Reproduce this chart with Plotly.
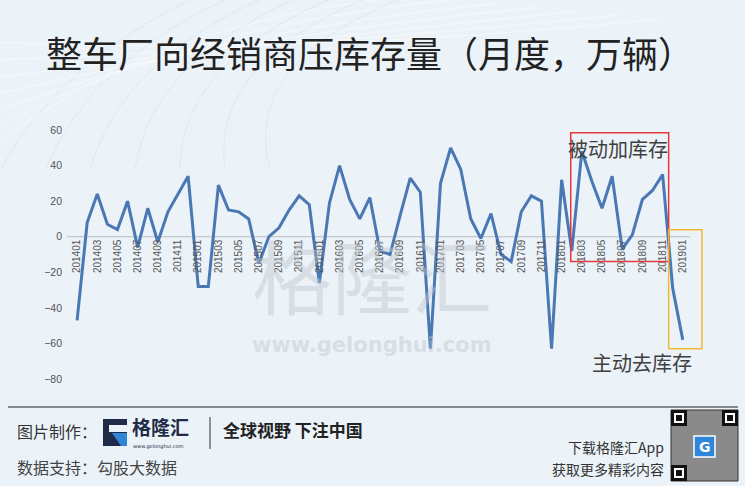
import plotly.graph_objects as go

# monthly data, 201401 .. 201901 (万辆)
months = [f"{y}{m:02d}" for y in range(2014, 2019) for m in range(1, 13)] + ["201901"]
values = [
    -47, 8, 24, 7, 4, 20, -6, 16, -3, 14, 24, 34,       # 2014
    -28, -28, 29, 15, 14, 10, -15, 0, 5, 15, 23, 18,    # 2015
    -26, 19, 40, 21, 10, 22, -8, -10, 12, 33, 25, -63,  # 2016
    30, 50, 38, 10, -1, 13, -10, -14, 14, 23, 20, -63,  # 2017
    32, -8, 48, 31, 16, 34, -7, 1, 21, 26, 35, -29,     # 2018
    -58,                                                # 2019
]
tick_labels = months[::2]
y_ticks = [60, 40, 20, 0, -20, -40, -60, -80]

title = "整车厂向经销商压库存量（月度，万辆）"
label_up = "被动加库存"
label_down = "主动去库存"

W, H = 745, 486
L, R, T, B = 67, 40, 130, 107
BG = "#ebf2f8"
CJK = "Noto Sans CJK SC"
y_range = [-80, 60]
x_range = [-1, 62.2]


def px(x):
    return (x - L) / (W - L - R)


def py(y):
    return (H - B - y) / (H - T - B)


def note(text, x, y, size, color="#333", family=CJK, xanchor="center"):
    # free text placed in pixel terms of the page
    return dict(text=text, xref="paper", yref="paper", x=px(x), y=py(y),
                xanchor=xanchor, yanchor="middle", showarrow=False,
                font=dict(family=family, size=size, color=color))


fig = go.Figure()
fig.add_trace(go.Scatter(
    x=months, y=values, mode="lines",
    line=dict(color="#4a78b5", width=3),
    hoverinfo="x+y", showlegend=False,
))

shapes = []
# faint background swooshes, top left
for k in range(7):
    shapes.append(dict(type="path", xref="paper", yref="paper", layer="below",
                       path=f"M {px(-10)} {py(150 - k * 18)} Q {px(150 + k * 25)} {py(20 + k * 6)} {px(420 + k * 40)} {py(-5 + k * 4)}",
                       line=dict(color="rgba(255,255,255,0.55)", width=1)))
    shapes.append(dict(type="path", xref="paper", yref="paper", layer="below",
                       path=f"M {px(k * 45)} {py(170)} Q {px(60 + k * 30)} {py(60)} {px(200 + k * 35)} {py(-5)}",
                       line=dict(color="rgba(190,215,235,0.35)", width=1)))
# zero line
shapes.append(dict(type="line", xref="x", yref="y", x0=-1, x1=60.7, y0=0, y1=0,
                   line=dict(color="#bdbdbd", width=1), layer="below"))
# highlight boxes
shapes.append(dict(type="rect", xref="x", yref="y", x0=48.9, x1=58.6, y0=-14, y1=58.5,
                   line=dict(color="#e5383b", width=1.5)))
shapes.append(dict(type="rect", xref="x", yref="y", x0=58.6, x1=61.9, y0=-63, y1=3.9,
                   line=dict(color="#f2b632", width=1.5)))
# footer rule
shapes.append(dict(type="line", xref="paper", yref="paper", x0=px(8), x1=px(738),
                   y0=py(407), y1=py(407), line=dict(color="#222", width=1.2)))
shapes.append(dict(type="line", xref="paper", yref="paper", x0=px(210), x1=px(210),
                   y0=py(417), y1=py(449), line=dict(color="#333", width=1)))
# logo icon
shapes.append(dict(type="rect", xref="paper", yref="paper", x0=px(103), x1=px(127),
                   y0=py(446), y1=py(419), fillcolor="#1f2b47", line_width=0))
shapes.append(dict(type="rect", xref="paper", yref="paper", x0=px(109), x1=px(127.5),
                   y0=py(432), y1=py(425), fillcolor=BG, line_width=0))
shapes.append(dict(type="path", xref="paper", yref="paper",
                   path=f"M {px(112)} {py(433)} L {px(127)} {py(433)} L {px(127)} {py(446)} L {px(121)} {py(446)} Z",
                   fillcolor="#2f86d8", line_width=0))
# qr code (decorative)
shapes.append(dict(type="rect", xref="paper", yref="paper", x0=px(671), x1=px(738),
                   y0=py(481), y1=py(410), fillcolor="#8a8a8a", line=dict(color="#333", width=1)))
for cx, cy in [(671, 410), (722, 410), (671, 465)]:
    shapes.append(dict(type="rect", xref="paper", yref="paper", x0=px(cx), x1=px(cx + 16),
                       y0=py(cy + 16), y1=py(cy), fillcolor="#111", line_width=0))
    shapes.append(dict(type="rect", xref="paper", yref="paper", x0=px(cx + 3), x1=px(cx + 13),
                       y0=py(cy + 13), y1=py(cy + 3), fillcolor="#fff", line_width=0))
    shapes.append(dict(type="rect", xref="paper", yref="paper", x0=px(cx + 5), x1=px(cx + 11),
                       y0=py(cy + 11), y1=py(cy + 5), fillcolor="#111", line_width=0))
shapes.append(dict(type="rect", xref="paper", yref="paper", x0=px(694), x1=px(715),
                   y0=py(457), y1=py(436), fillcolor="#2f86d8", line=dict(color="#fff", width=1.5)))

annotations = [
    note(title, 370, 52, 36, "#222"),
    dict(text=label_up, xref="x", yref="y", x=53.6, y=49.5, showarrow=False,
         font=dict(family=CJK, size=20, color="#404040")),
    dict(text=label_down, xref="x", yref="y", x=56, y=-70.8, showarrow=False,
         font=dict(family=CJK, size=20, color="#404040")),
    # watermark
    note("格隆汇", 372, 273, 80, "rgba(190,198,206,0.45)"),
    note("<b>www.gelonghui.com</b>", 372, 345, 21, "rgba(190,198,206,0.45)", "DejaVu Sans"),
    # footer
    note("图片制作：", 15, 431, 16, "#333", xanchor="left"),
    note("<b>格隆汇</b>", 130, 426, 19, "#1f2b47", xanchor="left"),
    note("www.gelonghui.com", 131, 446, 5, "#1f2b47", "DejaVu Sans", xanchor="left"),
    note("<b>全球视野 下注中国</b>", 221, 430, 17, "#222", xanchor="left"),
    note("数据支持：勾股大数据", 15, 467, 16, "#444", xanchor="left"),
    note("下载格隆汇App", 666, 447, 14, "#333", xanchor="right"),
    note("获取更多精彩内容", 666, 469, 14, "#333", xanchor="right"),
    note("<b>G</b>", 704.5, 446.5, 14, "#fff", "DejaVu Sans"),
]

fig.update_layout(
    width=W, height=H,
    margin=dict(l=L, r=R, t=T, b=B),
    paper_bgcolor=BG, plot_bgcolor=BG,
    shapes=shapes, annotations=annotations,
    xaxis=dict(
        type="category", range=x_range,
        tickmode="array", tickvals=tick_labels, ticktext=tick_labels,
        tickangle=-90, showgrid=False, zeroline=False, showline=False,
        anchor="free", position=(0 - y_range[0]) / (y_range[1] - y_range[0]),
        tickfont=dict(family="Liberation Sans", size=10, color="#555"),
    ),
    yaxis=dict(
        range=y_range, tickvals=y_ticks, showgrid=False, zeroline=False, showline=False,
        ticklabelstandoff=4,
        tickfont=dict(family="Liberation Sans", size=10.5, color="#555"),
    ),
)

fig.write_html("out.html", config={"displayModeBar": False},
               post_script="document.body.style.margin='0';")
